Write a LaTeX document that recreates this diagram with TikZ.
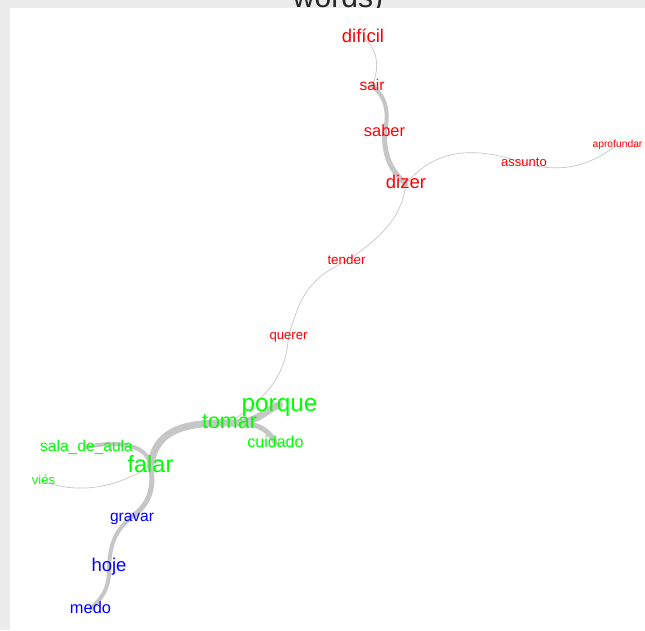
\documentclass[tikz,border=0pt]{standalone}
\usepackage{fontspec}
\setmainfont{Liberation Sans}
\usetikzlibrary{backgrounds}
\newcommand\wsize[1]{\fontsize{#1}{#1}\selectfont}
\begin{document}
\begin{tikzpicture}[x=1pt,y=-1pt,
  wd/.style={font=\wsize{#1},inner sep=0pt,text height=.52*#1pt,text depth=0pt},
  redw/.style={wd=#1,text=red},
  greenw/.style={wd=#1,text=green},
  bluew/.style={wd=#1,text=blue},
  link/.style={draw=gray!45,line width=#1,line cap=round},
  link/.default=.7pt]
\useasboundingbox (0,0) rectangle (645,630);
% red words
\node[redw=18.5] (dificil) at (363,38) {difícil};
\node[redw=15.5] (sair) at (372,86) {sair};
\node[redw=16.4] (saber) at (384.5,132.5) {saber};
\node[redw=18.5] (dizer) at (406,184) {dizer};
\node[redw=13] (assunto) at (524,163) {assunto};
\node[redw=10.3] (aprofundar) at (617.5,144.5) {aprofundar};
\node[redw=13.4] (tender) at (346.5,261) {tender};
\node[redw=13.1] (querer) at (288.5,336) {querer};
% green words
\node[greenw=24.4] (porque) at (279.5,405) {porque};
\node[greenw=21.5] (tomar) at (229.5,423) {tomar};
\node[greenw=16] (cuidado) at (275.5,443) {cuidado};
\node[greenw=15.6] (sala) at (86.5,447) {sala\_de\_aula};
\node[greenw=23.5] (falar) at (150.5,466) {falar};
\node[greenw=13] (vies) at (43.5,481.5) {viés};
% blue words
\node[bluew=15.5] (gravar) at (132,517) {gravar};
\node[bluew=18.5] (hoje) at (109,567) {hoje};
\node[bluew=16.4] (medo) at (90.5,609) {medo};
\begin{scope}[on background layer]
\clip (0,0) rectangle (645,630);
\fill[gray!15] (0,0) rectangle (645,630);
\node[font=\wsize{30},anchor=base,text=black!85] (titre) at (338,7) {words)};
\fill[white] (10,8) rectangle (645,630);
% edges
\draw[link] (dificil.center) .. controls (378,48) and (380,68) .. (sair.center);
\draw[link=4pt] (sair.center) .. controls (385,95) and (390,112) .. (saber.center);
\draw[link=5pt] (saber.center) .. controls (384,155) and (390,170) .. (dizer.center);
\draw[link] (dizer.center) .. controls (435,148) and (475,146) .. (assunto.center);
\draw[link] (assunto.center) .. controls (555,172) and (585,170) .. (aprofundar.center);
\draw[link] (dizer.center) .. controls (402,215) and (385,235) .. (tender.center);
\draw[link] (tender.center) .. controls (305,280) and (300,300) .. (querer.center);
\draw[link] (querer.center) .. controls (286,380) and (262,400) .. (tomar.center);
\draw[link=7pt] (tomar.center) .. controls (258,424) and (268,408) .. (porque.center);
\draw[link=5pt] (tomar.center) .. controls (255,422) and (268,428) .. (cuidado.center);
\draw[link=7pt] (falar.center) .. controls (155,435) and (175,422) .. (tomar.center);
\draw[link=4pt] (falar.center) .. controls (148,445) and (120,440) .. (sala.center);
\draw[link] (falar.center) .. controls (128,480) and (90,498) .. (vies.center);
\draw[link=5pt] (falar.center) .. controls (155,490) and (148,505) .. (gravar.center);
\draw[link=4pt] (gravar.center) .. controls (115,530) and (110,545) .. (hoje.center);
\draw[link=4pt] (hoje.center) .. controls (110,590) and (100,600) .. (medo.center);
\end{scope}
\end{tikzpicture}
\end{document}
